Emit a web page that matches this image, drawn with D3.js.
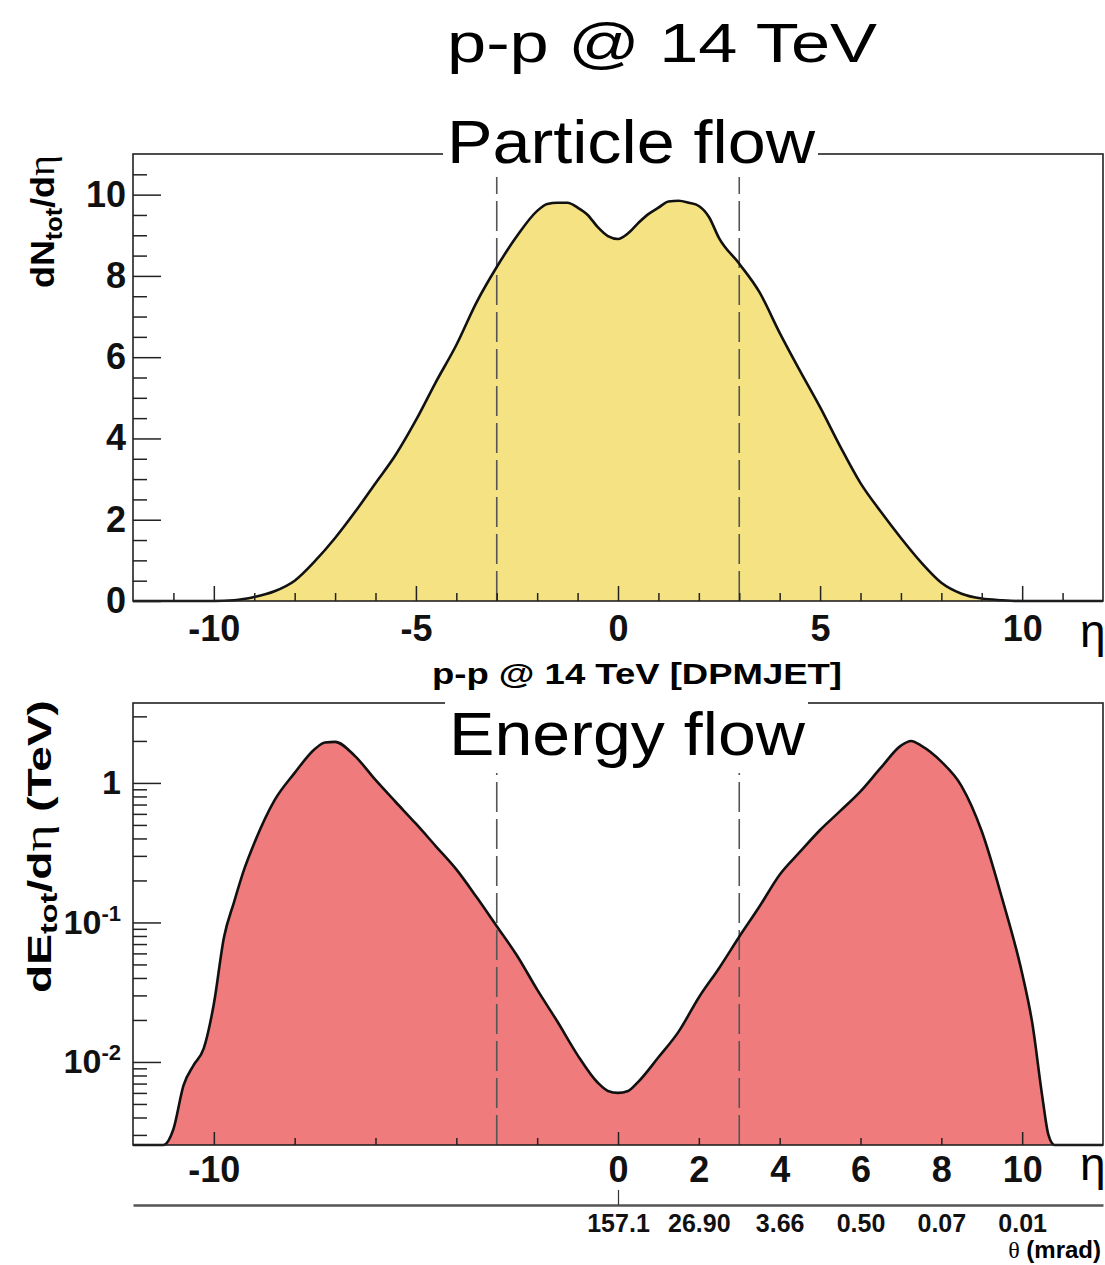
<!DOCTYPE html>
<html>
<head>
<meta charset="utf-8">
<script src="https://cdn.jsdelivr.net/npm/d3@7"></script>
<style>
body { margin: 0; background: #fff; }
text { font-family: "Liberation Sans", Arial, sans-serif; }
</style>
</head>
<body>
<svg id="chart"></svg>
<script>
let width = 1105,
    height = 1265;

// particle flow, dN/deta vs eta
let etaN = [-12, -10, -9.5, -9, -8.5, -8, -7.5, -7, -6.5, -6, -5.5, -5, -4.5, -4, -3.5, -3, -2.5, -2, -1.75, -1.5, -1.25, -1, -0.75, -0.5, -0.25,
    0, 0.25, 0.5, 0.75, 1, 1.25, 1.5, 1.75, 2, 2.25, 2.5, 3, 3.5, 4, 4.5, 5, 5.5, 6, 6.5, 7, 7.5, 8, 8.5, 9, 9.5, 10, 12];
let dNdEta = [0, 0, 0.02, 0.1, 0.24, 0.5, 0.98, 1.55, 2.2, 2.9, 3.6, 4.45, 5.4, 6.3, 7.35, 8.22, 8.98, 9.6, 9.77, 9.8, 9.8, 9.68, 9.5, 9.2, 8.98,
    8.91, 9.05, 9.3, 9.52, 9.68, 9.83, 9.85, 9.8, 9.72, 9.45, 8.93, 8.3, 7.6, 6.6, 5.67, 4.77, 3.8, 2.9, 2.2, 1.55, 0.95, 0.45, 0.18, 0.06, 0.02, 0, 0];

// energy flow, dE/deta (TeV) vs eta
let etaE = [-12, -11.25, -11, -10.75, -10.5, -10.25, -10, -9.75, -9.5, -9.25, -9, -8.5, -8, -7.5, -7.25, -7, -6.5, -6, -5.5, -5, -4.5, -4, -3.5, -3, -2.5, -2, -1.5, -1, -0.5, -0.25,
    0, 0.25, 0.5, 1, 1.5, 2, 2.5, 3, 3.5, 4, 4.5, 5, 5.5, 6, 6.5, 7, 7.25, 7.5, 8, 8.5, 9, 9.5, 10, 10.25, 10.5, 10.65, 10.8, 12];
let dEdEta = [0, 0, 0.0033, 0.0068, 0.0095, 0.0125, 0.026, 0.078, 0.14, 0.24, 0.37, 0.75, 1.18, 1.75, 1.95, 1.97, 1.55, 1.05, 0.73, 0.51, 0.35, 0.24, 0.152, 0.094, 0.058, 0.033, 0.0195, 0.0112, 0.0071, 0.0062,
    0.006, 0.0062, 0.0072, 0.0108, 0.0165, 0.029, 0.047, 0.079, 0.13, 0.22, 0.32, 0.46, 0.63, 0.87, 1.28, 1.85, 2.0, 1.85, 1.42, 0.95, 0.45, 0.15, 0.043, 0.019, 0.0056, 0.003, 0, 0];

let topTicks = [-10, -5, 0, 5, 10];
let bottomTicks = [-10, 0, 2, 4, 6, 8, 10];
let thetaTicks = [0, 2, 4, 6, 8, 10];
let thetaLabels = ['157.1', '26.90', '3.66', '0.50', '0.07', '0.01'];
let etaCuts = [-3, 3];

let svg = d3.select('svg#chart')
    .attr('width', width)
    .attr('height', height);
svg.append('rect').attr('width', width).attr('height', height).attr('fill', '#fff');

let x = d3.scaleLinear().domain([-12, 12]).range([133, 1103]);
let yN = d3.scaleLinear().domain([0, 11]).range([601, 154]);
let yE = d3.scaleLog().domain([0.00254, 3.74]).range([1145, 703]);
let eMin = yE.domain()[0];

function styleAxis(g, size) {
    g.select('.domain').remove();
    g.selectAll('line').attr('stroke', '#222').attr('stroke-width', 1.5);
    g.selectAll('text')
        .attr('font-family', '"Liberation Sans", Arial, sans-serif')
        .attr('font-weight', 'bold')
        .attr('font-size', size)
        .attr('fill', '#111');
}

function drawFrame(yScale) {
    let r = yScale.range();
    svg.append('rect')
        .attr('x', 133).attr('y', r[1])
        .attr('width', 1103 - 133).attr('height', r[0] - r[1])
        .attr('fill', 'none').attr('stroke', '#222').attr('stroke-width', 1.6);
}

function drawCuts(yScale) {
    let r = yScale.range();
    svg.selectAll(null)
        .data(etaCuts)
        .join('line')
        .attr('x1', d => x(d)).attr('x2', d => x(d))
        .attr('y1', r[0]).attr('y2', r[1])
        .attr('stroke', '#555').attr('stroke-width', 1.6)
        .attr('stroke-dasharray', '30,7');
}

function titleBox(label, x0, x1, yTop, yBottom, baseline, len) {
    svg.append('rect')
        .attr('x', x0).attr('y', yTop)
        .attr('width', x1 - x0).attr('height', yBottom - yTop)
        .attr('fill', '#fff');
    svg.append('text')
        .attr('x', x0 + 4).attr('y', baseline)
        .attr('font-size', 62)
        .attr('textLength', len).attr('lengthAdjust', 'spacingAndGlyphs')
        .text(label);
}

// ---------- particle flow ----------
let nData = etaN.map((e, i) => [e, dNdEta[i]]);

svg.append('path')
    .datum(nData)
    .attr('fill', '#f4e283')
    .attr('d', d3.area()
        .x(d => x(d[0]))
        .y0(yN(0))
        .y1(d => yN(d[1]))
        .curve(d3.curveMonotoneX));

drawCuts(yN);

svg.append('path')
    .datum(nData)
    .attr('fill', 'none')
    .attr('stroke', '#111')
    .attr('stroke-width', 2.6)
    .attr('d', d3.line()
        .x(d => x(d[0]))
        .y(d => yN(d[1]))
        .curve(d3.curveMonotoneX));

svg.append('g')
    .attr('transform', `translate(0,${yN(0)})`)
    .call(d3.axisBottom(x).tickValues(d3.range(-11, 12).filter(v => v % 5 !== 0)).tickSizeInner(-8).tickSizeOuter(0).tickFormat(''))
    .call(g => styleAxis(g, 36));
svg.append('g')
    .attr('transform', `translate(0,${yN(0)})`)
    .call(d3.axisBottom(x).tickValues(topTicks).tickSizeInner(-15).tickSizeOuter(0).tickPadding(14).tickFormat(d => String(d)))
    .call(g => styleAxis(g, 36));

svg.append('g')
    .attr('transform', 'translate(133,0)')
    .call(d3.axisLeft(yN).tickValues(d3.range(0.5, 11, 0.5).filter(v => v % 2 !== 0)).tickSizeInner(-14).tickSizeOuter(0).tickFormat(''))
    .call(g => styleAxis(g, 36));
svg.append('g')
    .attr('transform', 'translate(133,0)')
    .call(d3.axisLeft(yN).tickValues([0, 2, 4, 6, 8, 10]).tickSizeInner(-28).tickSizeOuter(0).tickPadding(7).tickFormat(d => String(d)))
    .call(g => styleAxis(g, 36));

drawFrame(yN);
titleBox('Particle flow', 443, 818, 100, 177, 163, 368);

svg.append('text')
    .attr('x', 432).attr('y', 684)
    .attr('font-size', 29).attr('font-weight', 'bold')
    .attr('textLength', 410).attr('lengthAdjust', 'spacingAndGlyphs')
    .text('p-p @ 14 TeV [DPMJET]');

svg.append('text')
    .attr('x', 1080).attr('y', 647)
    .attr('font-family', '"Liberation Serif", serif')
    .attr('font-size', 46)
    .text('η');

let yTitleN = svg.append('text')
    .attr('transform', 'translate(54,288) rotate(-90)')
    .attr('font-size', 34).attr('font-weight', 'bold')
    .attr('textLength', 133).attr('lengthAdjust', 'spacingAndGlyphs');
yTitleN.append('tspan').text('dN');
yTitleN.append('tspan').attr('font-size', 24).attr('dy', 8).text('tot');
yTitleN.append('tspan').attr('dy', -8).text('/d');
yTitleN.append('tspan').attr('font-family', '"Liberation Serif", serif').attr('font-weight', 'normal').attr('font-size', 38).text('η');

// ---------- energy flow ----------
let eData = etaE.map((e, i) => [e, Math.max(dEdEta[i], eMin)]);

svg.append('path')
    .datum(eData)
    .attr('fill', '#ef7b7d')
    .attr('d', d3.area()
        .x(d => x(d[0]))
        .y0(yE(eMin))
        .y1(d => yE(d[1]))
        .curve(d3.curveMonotoneX));

drawCuts(yE);

svg.append('path')
    .datum(eData)
    .attr('fill', 'none')
    .attr('stroke', '#111')
    .attr('stroke-width', 2.6)
    .attr('d', d3.line()
        .x(d => x(d[0]))
        .y(d => yE(d[1]))
        .curve(d3.curveMonotoneX));

svg.append('g')
    .attr('transform', `translate(0,${yE(eMin)})`)
    .call(d3.axisBottom(x).tickValues(d3.range(-10, 11, 2).filter(v => v % 10 !== 0)).tickSizeInner(-7).tickSizeOuter(0).tickFormat(''))
    .call(g => styleAxis(g, 36));
svg.append('g')
    .attr('transform', `translate(0,${yE(eMin)})`)
    .call(d3.axisBottom(x).tickValues([-10, 0, 10]).tickSizeInner(-13).tickSizeOuter(0).tickFormat(''))
    .call(g => styleAxis(g, 36));
svg.append('g')
    .attr('transform', `translate(0,${yE(eMin)})`)
    .call(d3.axisBottom(x).tickValues(bottomTicks).tickSize(0).tickPadding(11).tickFormat(d => String(d)))
    .call(g => styleAxis(g, 36));

let decades = [0.01, 0.1, 1];
svg.append('g')
    .attr('transform', 'translate(133,0)')
    .call(d3.axisLeft(yE).tickValues(yE.ticks().filter(v => !decades.some(p => Math.abs(v - p) < 1e-9))).tickSizeInner(-14).tickSizeOuter(0).tickFormat(''))
    .call(g => styleAxis(g, 34));
svg.append('g')
    .attr('transform', 'translate(133,0)')
    .call(d3.axisLeft(yE).tickValues(decades).tickSizeInner(-28).tickSizeOuter(0).tickPadding(12).tickFormat(''))
    .call(g => styleAxis(g, 34))
    .call(g => g.selectAll('.tick text').each(function(d) {
        let t = d3.select(this);
        if (d === 1) {
            t.text('1');
        } else {
            t.append('tspan').text('10');
            t.append('tspan').attr('font-size', 22).attr('dy', '-0.6em').text(String(Math.round(Math.log10(d))));
        }
    }));

drawFrame(yE);
titleBox('Energy flow', 445, 808, 690, 773, 755, 356);

svg.append('text')
    .attr('x', 1080).attr('y', 1180)
    .attr('font-family', '"Liberation Serif", serif')
    .attr('font-size', 46)
    .text('η');

let yTitleE = svg.append('text')
    .attr('transform', 'translate(51,993) rotate(-90)')
    .attr('font-size', 34).attr('font-weight', 'bold')
    .attr('textLength', 293).attr('lengthAdjust', 'spacingAndGlyphs');
yTitleE.append('tspan').text('dE');
yTitleE.append('tspan').attr('font-size', 24).attr('dy', 6).text('tot');
yTitleE.append('tspan').attr('dy', -6).text('/d');
yTitleE.append('tspan').attr('font-family', '"Liberation Serif", serif').attr('font-weight', 'normal').attr('font-size', 38).text('η');
yTitleE.append('tspan').text(' (TeV)');

// ---------- theta scale ----------
svg.append('g')
    .attr('transform', 'translate(0,1205)')
    .call(d3.axisTop(x).tickValues([0]).tickSizeInner(15).tickSizeOuter(0).tickFormat(''))
    .call(g => g.select('.domain').attr('stroke', '#555').attr('stroke-width', 2.5))
    .call(g => g.selectAll('line').attr('stroke', '#333').attr('stroke-width', 1.2));
svg.append('g')
    .attr('transform', 'translate(0,1205)')
    .call(d3.axisBottom(x).tickValues(thetaTicks).tickSize(0).tickPadding(9).tickFormat((d, i) => thetaLabels[i]))
    .call(g => styleAxis(g, 25));

let thetaTitle = svg.append('text')
    .attr('x', 1101).attr('y', 1258)
    .attr('text-anchor', 'end')
    .attr('font-size', 24).attr('font-weight', 'bold');
thetaTitle.append('tspan').attr('font-family', '"Liberation Serif", serif').attr('font-weight', 'normal').text('θ');
thetaTitle.append('tspan').text(' (mrad)');

// ---------- page title ----------
svg.append('text')
    .attr('x', 447).attr('y', 62)
    .attr('font-size', 56)
    .attr('textLength', 430).attr('lengthAdjust', 'spacingAndGlyphs')
    .text('p-p @ 14 TeV');
</script>
</body>
</html>
